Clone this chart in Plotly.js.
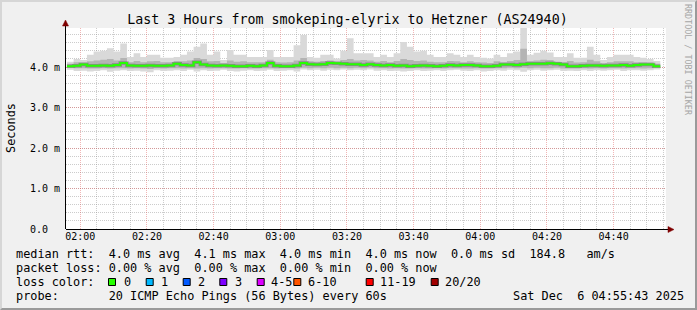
<!DOCTYPE html>
<html><head><meta charset="utf-8">
<script src="https://cdn.plot.ly/plotly-3.0.1.min.js"></script>
<style>
html,body{margin:0;padding:0;background:#f0f0f0;}
#wrap{position:relative;width:697px;height:310px;overflow:hidden;}
#chart{position:absolute;left:0;top:0;width:697px;height:310px;}
#frame{position:absolute;left:0;top:0;width:697px;height:310px;box-sizing:border-box;border-top:2px solid #d6d6d6;border-left:2px solid #d6d6d6;border-right:2px solid #9a9a9a;border-bottom:2px solid #9a9a9a;pointer-events:none;}
</style></head><body>
<div id="wrap"><div id="chart"></div><div id="frame"></div></div>
<script>
// ---- data (ms), one sample per 2-minute slot starting 01:56 ----
const slotStart = [2025, 11, 6, 1, 56];   // UTC parts (month 0-based)
const slotMinutes = 2;
const pingMax = [
  4.13, 4.20, 4.17, 4.30, 4.38, 4.40, 4.46, 4.38, 4.58, 4.25,
  4.34, 4.25, 4.30, 4.30, 4.23, 4.23, 4.25, 4.30, 4.38, 4.50,
  4.58, 4.30, 4.38, 4.17, 4.42, 4.30, 4.30, 4.25, 4.25, 4.25,
  4.42, 4.25, 4.25, 4.25, 4.54, 4.79, 4.25, 4.23, 4.30, 4.30,
  4.21, 4.40, 4.71, 4.34, 4.34, 4.34, 4.25, 4.30, 4.25, 4.34,
  4.62, 4.50, 4.38, 4.40, 4.30, 4.25, 4.25, 4.34, 4.30, 4.25,
  4.30, 4.25, 4.23, 4.21, 4.30, 4.25, 4.34, 4.38, 4.98, 4.30,
  4.35, 4.40, 4.36, 4.25, 4.25, 4.34, 4.23, 4.23, 4.50, 4.30,
  4.17, 4.25, 4.30, 4.30, 4.30, 4.25, 4.23, 4.20, 4.15];
const pingUpper = [
  4.08, 4.12, 4.12, 4.14, 4.16, 4.18, 4.20, 4.16, 4.22, 4.12,
  4.15, 4.12, 4.14, 4.15, 4.12, 4.12, 4.15, 4.14, 4.16, 4.22,
  4.20, 4.14, 4.15, 4.10, 4.16, 4.13, 4.14, 4.12, 4.12, 4.12,
  4.18, 4.12, 4.11, 4.12, 4.16, 4.22, 4.14, 4.13, 4.15, 4.16,
  4.13, 4.17, 4.20, 4.16, 4.17, 4.16, 4.13, 4.15, 4.12, 4.15,
  4.20, 4.17, 4.15, 4.16, 4.13, 4.12, 4.12, 4.15, 4.14, 4.12,
  4.14, 4.12, 4.11, 4.10, 4.14, 4.12, 4.15, 4.17, 4.45, 4.15,
  4.16, 4.18, 4.17, 4.13, 4.12, 4.15, 4.11, 4.12, 4.18, 4.14,
  4.10, 4.12, 4.14, 4.14, 4.14, 4.12, 4.12, 4.11, 4.08];
const pingMedian = [
  4.02, 4.03, 4.06, 4.03, 4.03, 4.04, 4.03, 4.05, 4.10, 4.04,
  4.03, 4.03, 4.04, 4.03, 4.03, 4.04, 4.08, 4.05, 4.04, 4.12,
  4.06, 4.04, 4.03, 4.04, 4.03, 4.02, 4.02, 4.03, 4.02, 4.04,
  4.10, 4.03, 4.02, 4.02, 4.04, 4.10, 4.07, 4.06, 4.07, 4.10,
  4.09, 4.08, 4.07, 4.07, 4.05, 4.07, 4.05, 4.04, 4.05, 4.03,
  4.04, 4.02, 4.03, 4.04, 4.03, 4.02, 4.03, 4.05, 4.04, 4.05,
  4.05, 4.04, 4.02, 4.02, 4.03, 4.06, 4.06, 4.05, 4.07, 4.08,
  4.08, 4.08, 4.09, 4.08, 4.06, 4.02, 4.02, 4.03, 4.04, 4.04,
  4.03, 4.04, 4.04, 4.05, 4.03, 4.05, 4.06, 4.06, 4.02];
const pingLower = [
  3.98, 3.97, 3.97, 3.96, 3.96, 3.97, 3.96, 3.97, 3.97, 3.96,
  3.97, 3.96, 3.95, 3.97, 3.96, 3.97, 3.97, 3.96, 3.97, 3.96,
  3.97, 3.96, 3.97, 3.97, 3.96, 3.96, 3.97, 3.96, 3.96, 3.97,
  3.97, 3.96, 3.97, 3.97, 3.96, 3.98, 3.97, 3.98, 3.97, 3.98,
  3.97, 3.98, 3.97, 3.98, 3.97, 3.98, 3.97, 3.97, 3.96, 3.97,
  3.96, 3.96, 3.97, 3.96, 3.96, 3.97, 3.96, 3.97, 3.97, 3.96,
  3.96, 3.97, 3.96, 3.96, 3.97, 3.97, 3.98, 3.97, 3.98, 3.97,
  3.98, 3.97, 3.97, 3.98, 3.96, 3.96, 3.96, 3.97, 3.96, 3.97,
  3.96, 3.97, 3.97, 3.96, 3.97, 3.97, 3.96, 3.97, 3.98];
const pingMin = [
  3.93, 3.90, 3.91, 3.89, 3.90, 3.92, 3.88, 3.91, 3.92, 3.90,
  3.91, 3.89, 3.87, 3.92, 3.90, 3.91, 3.92, 3.90, 3.93, 3.89,
  3.92, 3.90, 3.91, 3.93, 3.90, 3.89, 3.91, 3.92, 3.90, 3.91,
  3.93, 3.90, 3.91, 3.92, 3.89, 3.94, 3.92, 3.93, 3.91, 3.93,
  3.92, 3.94, 3.92, 3.93, 3.92, 3.94, 3.91, 3.92, 3.90, 3.91,
  3.89, 3.90, 3.92, 3.90, 3.91, 3.92, 3.90, 3.92, 3.93, 3.91,
  3.90, 3.92, 3.89, 3.90, 3.92, 3.91, 3.93, 3.92, 3.88, 3.92,
  3.93, 3.91, 3.92, 3.93, 3.90, 3.91, 3.90, 3.92, 3.90, 3.92,
  3.91, 3.92, 3.93, 3.90, 3.92, 3.92, 3.91, 3.92, 3.94];

const yTickVals = [0, 1, 2, 3, 4];
const yTickText = ['0.0\u00a0\u00a0', '1.0 m', '2.0 m', '3.0 m', '4.0 m'];
const lossLabels = ['0', '1', '2', '3', '4-5', '6-10', '11-19', '20/20'];
const lossColors = ['#26ff00', '#00b8ff', '#0059ff', '#7e00ff', '#dd00ff', '#ff5500', '#ff0000', '#a10000'];
const titleText = 'Last 3 Hours from smokeping-elyrix to Hetzner (AS24940)';
const statsRtt = 'median rtt:  4.0 ms avg  4.1 ms max  4.0 ms min  4.0 ms now  0.0 ms sd  184.8   am/s';
const statsLoss = 'packet loss: 0.00 % avg  0.00 % max  0.00 % min  0.00 % now';
const probeText = 'probe:       20 ICMP Echo Pings (56 Bytes) every 60s';
const dateText = 'Sat Dec  6 04:55:43 2025';
const xRange = ['2025-12-06 01:55:43', '2025-12-06 04:55:43'];

// ---- helpers ----
const FONT = 'DejaVu Sans Mono, monospace';
const nb = s => s.replace(/ /g, '\u00a0');
const pad = n => String(n).padStart(2, '0');
function slotTime(i) {
  const d = new Date(Date.UTC(slotStart[0], slotStart[1], slotStart[2], slotStart[3], slotStart[4]) + i * slotMinutes * 60000);
  return d.getUTCFullYear() + '-' + pad(d.getUTCMonth() + 1) + '-' + pad(d.getUTCDate()) + ' ' +
         pad(d.getUTCHours()) + ':' + pad(d.getUTCMinutes()) + ':00';
}
const n = pingMedian.length;
const times = [];
for (let i = 0; i <= n; i++) times.push(slotTime(i));
const ext = a => a.concat([a[a.length - 1]]);

// plot-area pixel geometry -> paper coords
const L = 66, R = 666, T = 28, B = 229;
const PX = x => (x - L) / (R - L);
const PY = y => (B - y) / (B - T);

const traces = [
  {x: times, y: ext(pingMin), mode: 'lines', line: {width: 0, shape: 'hv'}, hoverinfo: 'skip', showlegend: false},
  {x: times, y: ext(pingMax), mode: 'lines', line: {width: 0, shape: 'hv'}, fill: 'tonexty', fillcolor: '#d9d9d9', hoverinfo: 'skip', showlegend: false},
  {x: times, y: ext(pingLower), mode: 'lines', line: {width: 0, shape: 'hv'}, hoverinfo: 'skip', showlegend: false},
  {x: times, y: ext(pingUpper), mode: 'lines', line: {width: 0, shape: 'hv'}, fill: 'tonexty', fillcolor: '#b4b4b4', hoverinfo: 'skip', showlegend: false},
  {x: times, y: ext(pingMedian), mode: 'lines', line: {width: 3.5, shape: 'hv', color: 'rgba(60,60,60,0.35)'}, hoverinfo: 'skip', showlegend: false},
  {x: times, y: ext(pingMedian), mode: 'lines', line: {width: 2, shape: 'hv', color: lossColors[0]}, name: 'median rtt', showlegend: false}
];

const ann = [];
const txt = (text, x, y, size, extra) => ann.push(Object.assign({
  text: nb(text), xref: 'paper', yref: 'paper', x: PX(x), y: PY(y), xanchor: 'left', yanchor: 'middle',
  showarrow: false, borderpad: 0, borderwidth: 0, font: {family: FONT, size: size, color: '#000'}
}, extra || {}));
const LEG = 11.85;
txt(statsRtt, 16, 254, LEG);
txt(statsLoss, 16, 268, LEG);
txt('loss color:', 16, 282, LEG);
txt(probeText, 16, 296, LEG);
txt(dateText, 513, 296, LEG);
const boxX = [108, 145.7, 182.7, 219.3, 256.7, 293.3, 365.7, 430.7];
const labX = [123.5, 160.5, 197.5, 234.5, 270.5, 308, 380, 445];
const shapes = [];
lossLabels.forEach((lab, i) => {
  txt(lab, labX[i], 282, LEG);
  shapes.push({type: 'rect', xref: 'paper', yref: 'paper', x0: PX(boxX[i] + 0.5), x1: PX(boxX[i] + 7.5),
    y0: PY(278.5), y1: PY(285.5), fillcolor: lossColors[i], line: {color: '#000', width: 1}});
});
// axis title and watermark
ann.push({text: 'Seconds', xref: 'paper', yref: 'paper', x: PX(11), y: PY(128), textangle: -90,
  showarrow: false, borderpad: 0, borderwidth: 0, xanchor: 'center', yanchor: 'middle',
  font: {family: FONT, size: LEG, color: '#000'}});
ann.push({text: nb('RRDTOOL / TOBI OETIKER'), xref: 'paper', yref: 'paper', x: PX(688), y: PY(60), textangle: 90,
  showarrow: false, borderpad: 0, borderwidth: 0, xanchor: 'center', yanchor: 'middle',
  font: {family: FONT, size: 8.4, color: '#a6a6a6'}});

// axis arrows
const path = pts => 'M' + pts.map(p => PX(p[0]) + ',' + PY(p[1])).join('L') + 'Z';
shapes.push({type: 'line', xref: 'paper', yref: 'paper', x0: PX(65.5), x1: PX(65.5), y0: PY(229), y1: PY(24), line: {color: '#000', width: 1}});
shapes.push({type: 'path', xref: 'paper', yref: 'paper', path: path([[65.5, 20], [62.5, 26], [68.5, 26]]), fillcolor: '#7f0000', line: {color: '#7f0000', width: 0.5}});
shapes.push({type: 'line', xref: 'paper', yref: 'paper', x0: PX(66), x1: PX(670), y0: PY(229.5), y1: PY(229.5), line: {color: '#000', width: 1}});
shapes.push({type: 'path', xref: 'paper', yref: 'paper', path: path([[674, 229.5], [668, 226.5], [668, 232.5]]), fillcolor: '#7f0000', line: {color: '#7f0000', width: 0.5}});

const gridMajor = 'rgba(222,80,80,0.42)';
const gridMinor = 'rgba(143,143,143,0.45)';
const layout = {
  width: 697, height: 310,
  margin: {l: L, r: 697 - R, t: T, b: 310 - B, pad: 0},
  paper_bgcolor: '#f0f0f0', plot_bgcolor: '#ffffff',
  title: {text: titleText, x: 347.5 / 697, xref: 'container', xanchor: 'center', y: 1 - 19 / 310, yref: 'container', yanchor: 'middle',
    font: {family: FONT, size: 13.3, color: '#000'}},
  xaxis: {type: 'date', range: xRange, tickformat: '%H:%M', dtick: 1200000, tick0: '2025-12-06 02:00:00',
    showgrid: true, gridcolor: gridMajor, griddash: '1px,1px', gridwidth: 1,
    minor: {dtick: 300000, tick0: '2025-12-06 02:00:00', showgrid: true, gridcolor: gridMinor, griddash: '1px,1px', gridwidth: 1},
    showline: false, zeroline: false, ticks: '', ticklabelstandoff: 0,
    tickfont: {family: FONT, size: 10, color: '#000'}, fixedrange: true},
  yaxis: {range: [0, 4.963], tickvals: yTickVals, ticktext: yTickText,
    showgrid: true, gridcolor: gridMajor, griddash: '1px,1px', gridwidth: 1,
    minor: {dtick: 0.2, tick0: 0, showgrid: true, gridcolor: gridMinor, griddash: '1px,1px', gridwidth: 1},
    showline: false, zeroline: false, ticks: '', ticklabelstandoff: 5,
    tickfont: {family: FONT, size: 10, color: '#000'}, fixedrange: true},
  annotations: ann,
  shapes: shapes,
  showlegend: false
};
Plotly.newPlot('chart', traces, layout, {staticPlot: true, displayModeBar: false});
</script></body></html>
